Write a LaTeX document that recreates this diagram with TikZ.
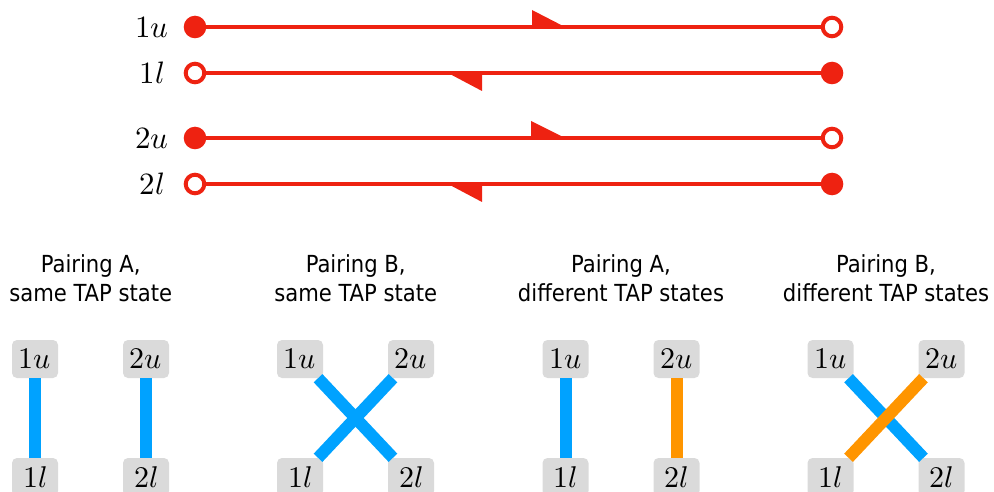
\documentclass[tikz,border=0pt]{standalone}
\usepackage{fontspec}
\usepackage{unicode-math}
\setmathfont{Latin Modern Math}
\newfontfamily\titlefont{DejaVu Sans Condensed}
\usetikzlibrary{calc}
\definecolor{myred}{RGB}{238,34,17}
\definecolor{myblue}{RGB}{0,162,255}
\definecolor{myorange}{RGB}{255,149,0}
\definecolor{boxgray}{RGB}{218,218,218}
\begin{document}
\begin{tikzpicture}[x=1pt,y=-1pt,
 endfull/.style={circle,fill=myred,inner sep=0pt,minimum size=22.6pt},
 endopen/.style={circle,draw=myred,fill=white,line width=4pt,inner sep=0pt,minimum size=18.6pt},
 wire/.style={draw=myred,line width=4.5pt},
 flag/.style={fill=myred},
 lab/.style={font=\fontsize{31}{31}\selectfont, anchor=base},
 st/.style={rectangle,rounded corners=5pt,fill=boxgray,minimum width=46pt,minimum height=38pt,inner sep=0pt,font=\fontsize{30}{30}\selectfont},
 bar/.style={line width=12pt},
 ttl/.style={font=\titlefont\fontsize{23.5}{29}\selectfont,anchor=base}
]
\useasboundingbox (0,0) rectangle (994,492);

% ---------- top: four lines ----------
\coordinate (c1uL) at (195,27);  \coordinate (c1uR) at (832,27);
\coordinate (c1lL) at (195,73);  \coordinate (c1lR) at (832,73);
\coordinate (c2uL) at (195,138); \coordinate (c2uR) at (832,138);
\coordinate (c2lL) at (195,184); \coordinate (c2lR) at (832,184);

\draw[wire] (c1uL) -- (c1uR);
\draw[wire] (c1lL) -- (c1lR);
\draw[wire] (c2uL) -- (c2uR);
\draw[wire] (c2lL) -- (c2lR);

\fill[flag] (532,28) -- (532,10) -- (565,27) -- cycle;
\fill[flag] (482,72) -- (482,91) -- (448,73) -- cycle;
\fill[flag] (531,139) -- (531,121) -- (565,138) -- cycle;
\fill[flag] (482,183) -- (482,202) -- (448,184) -- cycle;

\node[endfull] (p1uL) at (c1uL) {};
\node[endopen] (p1uR) at (c1uR) {};
\node[endopen] (p1lL) at (c1lL) {};
\node[endfull] (p1lR) at (c1lR) {};
\node[endfull] (p2uL) at (c2uL) {};
\node[endopen] (p2uR) at (c2uR) {};
\node[endopen] (p2lL) at (c2lL) {};
\node[endfull] (p2lR) at (c2lR) {};

\node[lab] (t1u) at (152,38)  {$1u$};
\node[lab] (t1l) at (152,84)  {$1l$};
\node[lab] (t2u) at (152,149) {$2u$};
\node[lab] (t2l) at (152,195) {$2l$};

% ---------- titles ----------
\node[ttl] (h1a) at (90.75,272) {Pairing A,};
\node[ttl] (h1b) at (90.75,301) {same TAP state};
\node[ttl] (h2a) at (355.75,272) {Pairing B,};
\node[ttl] (h2b) at (355.75,301) {same TAP state};
\node[ttl] (h3a) at (621,272) {Pairing A,};
\node[ttl] (h3b) at (621,301) {different TAP states};
\node[ttl] (h4a) at (886,272) {Pairing B,};
\node[ttl] (h4b) at (886,301) {different TAP states};

% ---------- state boxes ----------
\foreach \gx/\g in {35/A,300/B,565.5/C,830.5/D}{
  \node[st] (\g1u) at (\gx,359) {$1u$};
  \node[st] (\g2u) at (\gx+111,359) {$2u$};
  \node[st] (\g1l) at (\gx,477) {$1l$};
  \node[st] (\g2l) at (\gx+111,477) {$2l$};
}

% ---------- pairings ----------
\draw[bar,myblue] (A1u) -- (A1l);
\draw[bar,myblue] (A2u) -- (A2l);

\draw[bar,myblue] (B1u) -- (B2l);
\draw[bar,myblue] (B2u) -- (B1l);

\draw[bar,myblue] (C1u) -- (C1l);
\draw[bar,myorange] (C2u) -- (C2l);

\draw[bar,myblue] (D1u) -- (D2l);
\draw[bar,myorange] (D2u) -- (D1l);
\end{tikzpicture}
\end{document}
